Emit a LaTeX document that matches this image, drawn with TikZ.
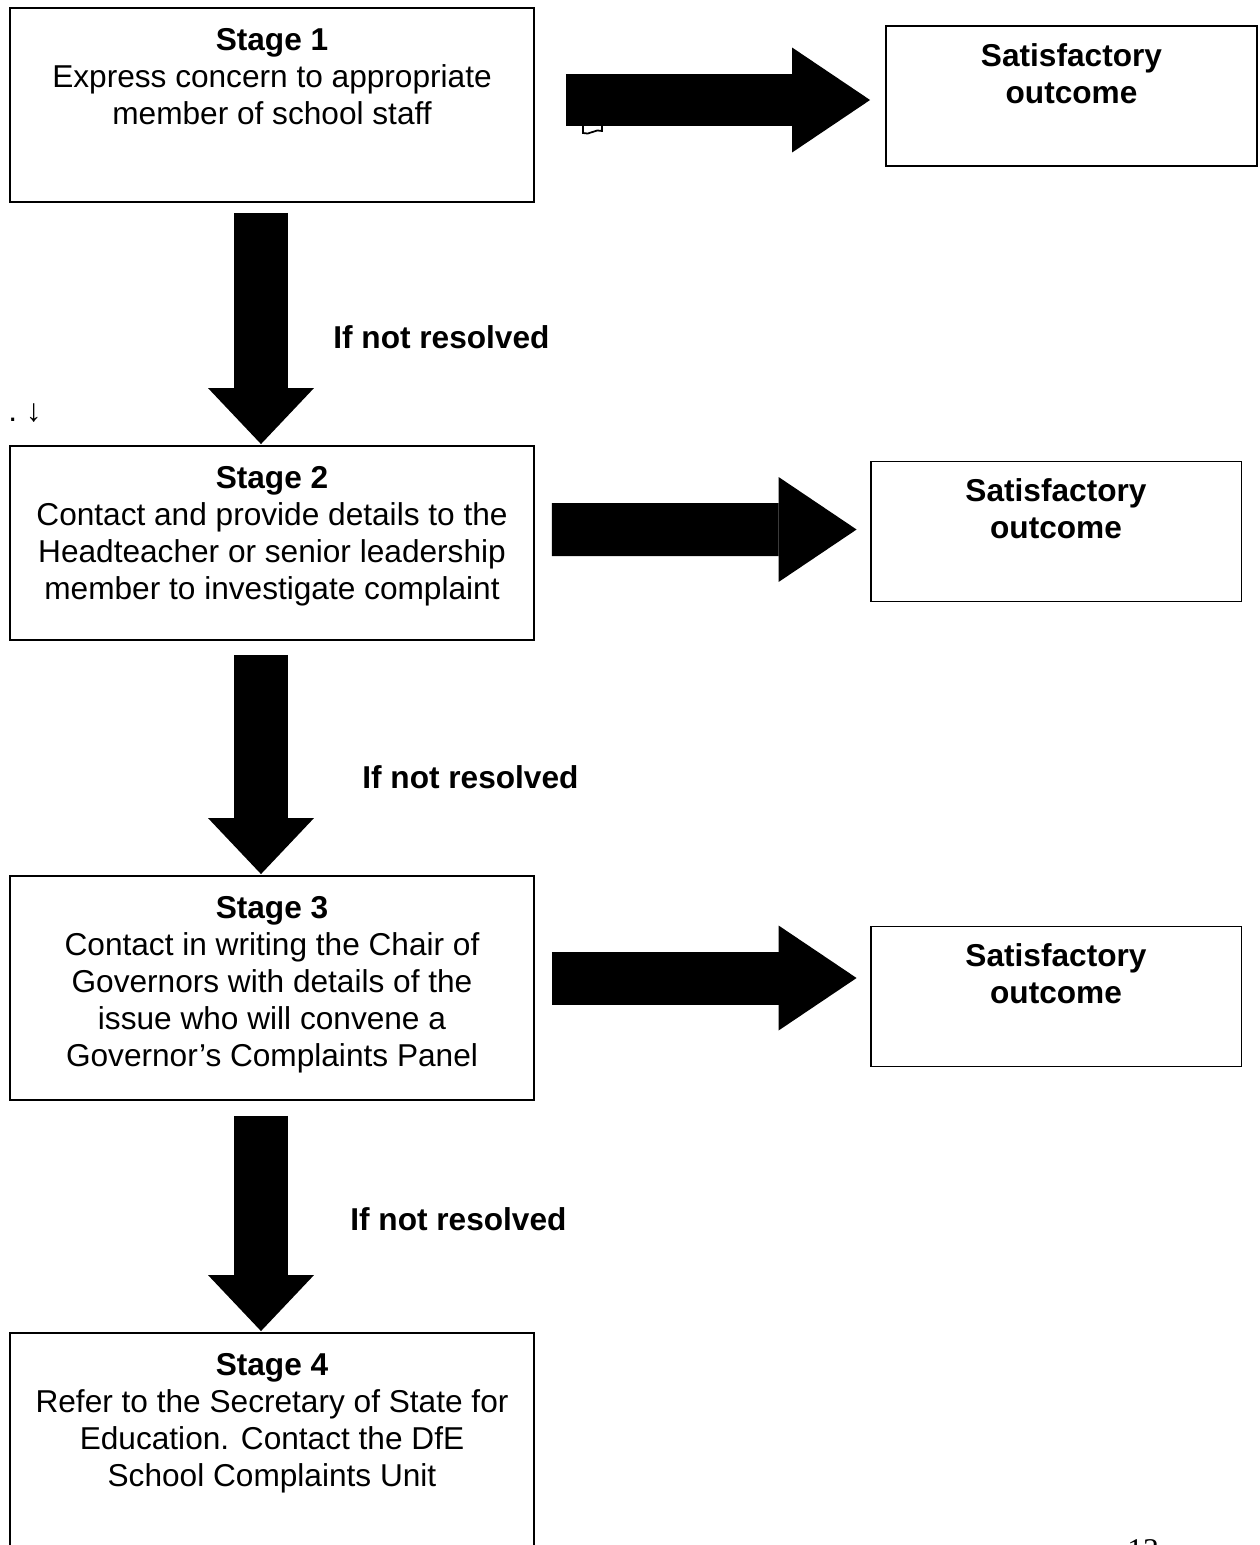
\documentclass[tikz,border=0pt]{standalone}
\usepackage{fontspec}
\setmainfont{Liberation Sans}
\newfontfamily\pagefont{Liberation Serif}
\usetikzlibrary{arrows.meta,calc}

\tikzset{
  stagebox/.style={draw, line width=1.1pt, minimum width=10.48cm, inner sep=0pt},
  outbox/.style={draw, line width=1.1pt, minimum width=7.42cm, minimum height=2.8cm, inner sep=0pt},
  boxtext/.style={anchor=north, align=center, inner sep=0pt, font=\fontsize{18pt}{21pt}\selectfont},
  outtext/.style={anchor=north, align=center, inner sep=0pt, font=\fontsize{18pt}{21pt}\selectfont\bfseries},
  resolved/.style={anchor=west, inner sep=0pt, font=\fontsize{18pt}{21pt}\selectfont\bfseries},
  downarrow/.style={line width=1.08cm, -{Triangle[width=2.12cm, length=1.12cm, line width=0pt]}},
  rightarrow/.style={line width=1.06cm, -{Triangle[width=2.1cm, length=1.56cm, line width=0pt]}},
}

\begin{document}
\begin{tikzpicture}[x=0.02cm, y=-0.02cm]
  \useasboundingbox (0,0) rectangle (1259,1545);

  % stages
  \node[stagebox, minimum height=3.88cm] (s1) at (272,105) {};
  \node[stagebox, minimum height=3.88cm] (s2) at (272,543) {};
  \node[stagebox, minimum height=4.48cm] (s3) at (272,988) {};
  \node[stagebox, minimum height=5.4cm] (s4) at (272,1468) {};

  \node[boxtext] (t1) at ($(s1.north)+(0,21)$) {\textbf{Stage 1}\\Express concern to appropriate\\member of school staff};
  \node[boxtext] (t2) at ($(s2.north)+(0,21)$) {\textbf{Stage 2}\\Contact and provide details to the\\Headteacher or senior leadership\\member to investigate complaint};
  \node[boxtext] (t3) at ($(s3.north)+(0,21)$) {\textbf{Stage 3}\\Contact in writing the Chair of\\Governors with details of the\\issue who will convene a\\Governor’s Complaints Panel};
  \node[boxtext] (t4) at ($(s4.north)+(0,21)$) {\textbf{Stage 4}\\Refer to the Secretary of State for\\Education. Contact the DfE\\School Complaints Unit};

  % outcomes
  \node[outbox] (o1) at (1071.5,96) {};
  \node[outbox] (o2) at (1056,531.5) {};
  \node[outbox] (o3) at (1056,996.5) {};
  \node[outtext] at ($(o1.north)+(0,18)$) {Satisfactory\\outcome};
  \node[outtext] at ($(o2.north)+(0,18)$) {Satisfactory\\outcome};
  \node[outtext] at ($(o3.north)+(0,18)$) {Satisfactory\\outcome};

  % block arrows
  \draw[downarrow] ($(s1.south)+(-11,10)$) -- ($(s2.north)+(-11,-1)$);
  \draw[downarrow] ($(s2.south)+(-11,14)$) -- ($(s3.north)+(-11,-1)$);
  \draw[downarrow] ($(s3.south)+(-11,15)$) -- ($(s4.north)+(-11,-1)$);
  \draw[rightarrow] ($(s1.east)+(31,-5)$) -- ($(o1.west)+(-15,4)$);
  \draw[rightarrow] ($(s2.east)+(17,-13.5)$) -- ($(o2.west)+(-13,-2)$);
  \draw[rightarrow] ($(s3.east)+(17,-10)$) -- ($(o3.west)+(-13,-18.5)$);

  \node[resolved] (r1) at (333,337) {If not resolved};
  \node[resolved] (r2) at (362,777) {If not resolved};
  \node[resolved] (r3) at (350,1219) {If not resolved};

  % stray marks
  \draw[line width=1pt] (583,126) -- (583,133) .. controls (589,136) and (596,128) .. (602,131) -- (602,126);
  \node[anchor=west, inner sep=0pt, font=\fontsize{18pt}{21pt}\selectfont] (dot) at (8,413) {.\ ↓};
  \node[anchor=north west, inner sep=0pt, font=\pagefont\fontsize{18pt}{21pt}\selectfont] (pg) at (1127,1539) {13};
\end{tikzpicture}
\end{document}
